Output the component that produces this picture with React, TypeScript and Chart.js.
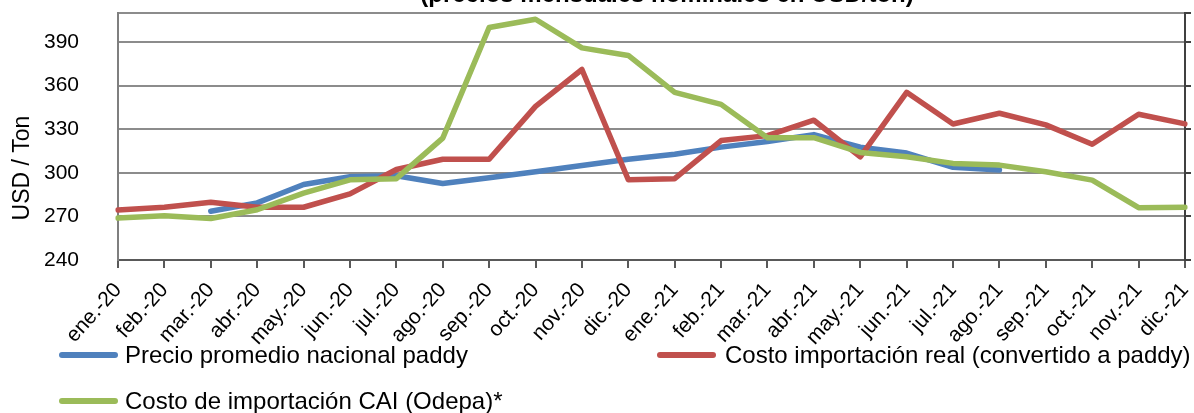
import React, { useEffect, useRef } from "react";
import { Chart, registerables } from "chart.js";

Chart.register(...registerables);

const categories = [
  "ene.-20", "feb.-20", "mar.-20", "abr.-20", "may.-20", "jun.-20",
  "jul.-20", "ago.-20", "sep.-20", "oct.-20", "nov.-20", "dic.-20",
  "ene.-21", "feb.-21", "mar.-21", "abr.-21", "may.-21", "jun.-21",
  "jul.-21", "ago.-21", "sep.-21", "oct.-21", "nov.-21", "dic.-21",
];

const precioNacional = [
  null, null, 273.5, 279.3, 292, 297.3, 298, 292.6, 296.6, 300.7, 305, 309.3,
  312.8, 317.7, 321.6, 326.3, 317.7, 313.6, 303.8, 302, null, null, null, null,
];

const costoReal = [
  274.4, 276.3, 279.8, 276.3, 276.3, 285.5, 302.3, 309.3, 309.3, 345.7, 371.1, 295.2,
  296, 322.2, 325.6, 336.2, 311, 355.4, 333.6, 341, 333, 319.7, 340.3, 333.7,
];

const costoCAI = [
  268.9, 270.5, 268.6, 274.6, 286, 295.2, 296, 323.9, 400, 405.7, 386, 380.8,
  355.4, 347.1, 324.2, 324.2, 314, 311, 306.5, 305.3, 300.7, 295, 276, 276.3,
];

const yTicks = [240, 270, 300, 330, 360, 390];
const yMin = 240;
const yMax = 410;

const seriesNames = [
  "Precio promedio nacional paddy",
  "Costo importación real (convertido a paddy)",
  "Costo de importación CAI (Odepa)*",
];
const titleText = "(precios mensuales nominales en USD/ton)";
const yTitle = "USD / Ton";

const FONT = "'Liberation Sans', Arial, sans-serif";

export default function App() {
  const ref = useRef<HTMLCanvasElement | null>(null);

  useEffect(() => {
    document.body.style.margin = "0";
    const canvas = ref.current;
    if (!canvas) return;

    const legendPos = [
      { x: 62, y: 355, tx: 125, ty: 363 },
      { x: 660, y: 355, tx: 725, ty: 363 },
      { x: 62, y: 401, tx: 125, ty: 409 },
    ];

    const overlay = {
      id: "overlay",
      afterDraw(chart: any) {
        const ctx = chart.ctx;
        ctx.save();
        ctx.fillStyle = "#000";
        ctx.font = `bold 24px ${FONT}`;
        ctx.textAlign = "center";
        ctx.textBaseline = "alphabetic";
        ctx.fillText(titleText, 667, 2);
        ctx.save();
        ctx.translate(23, 168);
        ctx.rotate(-Math.PI / 2);
        ctx.font = `23px ${FONT}`;
        ctx.textBaseline = "middle";
        ctx.fillText(yTitle, 0, 0);
        ctx.restore();
        chart.data.datasets.forEach((ds: any, i: number) => {
          const p = legendPos[i];
          ctx.strokeStyle = ds.borderColor;
          ctx.lineWidth = 6;
          ctx.lineCap = "round";
          ctx.beginPath();
          ctx.moveTo(p.x, p.y);
          ctx.lineTo(p.x + 53, p.y);
          ctx.stroke();
          ctx.fillStyle = "#000";
          ctx.font = `24px ${FONT}`;
          ctx.textAlign = "left";
          ctx.textBaseline = "alphabetic";
          ctx.fillText(ds.label, p.tx, p.ty);
        });
        ctx.restore();
      },
    };

    const setTicks = (scale: any) => {
      scale.ticks = [...yTicks, yMax].map((v) => ({ value: v }));
    };

    const lineStyle = {
      borderWidth: 5.5,
      pointRadius: 0,
      tension: 0,
      borderJoinStyle: "round",
      borderCapStyle: "round",
    };

    const chart = new Chart(canvas, {
      type: "line",
      data: {
        labels: categories,
        datasets: [
          {
            ...lineStyle,
            label: seriesNames[0],
            data: precioNacional,
            borderColor: "#4F81BD",
            backgroundColor: "#4F81BD",
            order: 3,
          },
          {
            ...lineStyle,
            label: seriesNames[1],
            data: costoReal,
            borderColor: "#C0504D",
            backgroundColor: "#C0504D",
            order: 2,
          },
          {
            ...lineStyle,
            label: seriesNames[2],
            data: costoCAI,
            borderColor: "#9BBB59",
            backgroundColor: "#9BBB59",
            order: 1,
          },
        ],
      },
      options: {
        responsive: false,
        animation: false,
        devicePixelRatio: 1,
        layout: { padding: { top: 13, left: 0, right: 0, bottom: 0 } },
        plugins: {
          legend: { display: false },
          title: { display: false },
          tooltip: { enabled: false },
        },
        scales: {
          x: {
            type: "category",
            offset: false,
            grid: {
              display: true,
              drawOnChartArea: false,
              drawTicks: true,
              tickLength: 8,
              color: "#595959",
              lineWidth: 2,
            },
            border: { display: true, color: "#595959", width: 2 },
            ticks: {
              autoSkip: false,
              maxRotation: 48,
              minRotation: 48,
              padding: 10,
              color: "#000",
              font: { family: FONT, size: 21 },
            },
            afterFit: (s: any) => {
              s.height = 153;
              s.paddingLeft = 0;
              s.paddingRight = 0;
            },
          },
          y: {
            type: "linear",
            position: "left",
            min: yMin,
            max: yMax,
            afterBuildTicks: setTicks,
            grid: { color: "#8c8c8c", lineWidth: 2, drawTicks: false },
            border: { display: true, color: "#7f7f7f", width: 2 },
            ticks: {
              padding: 39,
              color: "#000",
              font: { family: FONT, size: 21 },
              callback: (v: any) => (yTicks.includes(Number(v)) ? String(v) : ""),
            },
            afterFit: (s: any) => {
              s.width = 118;
              s.paddingTop = 0;
              s.paddingBottom = 0;
            },
          },
          y2: {
            type: "linear",
            position: "right",
            min: yMin,
            max: yMax,
            afterBuildTicks: setTicks,
            grid: {
              drawOnChartArea: false,
              drawTicks: true,
              tickLength: 6,
              color: "#404040",
              lineWidth: 2,
            },
            border: { display: true, color: "#404040", width: 2 },
            ticks: { display: false },
            afterFit: (s: any) => {
              s.width = 9;
              s.paddingTop = 0;
              s.paddingBottom = 0;
            },
          },
        },
      },
      plugins: [overlay],
    } as any);

    return () => chart.destroy();
  }, []);

  return (
    <div style={{ position: "relative", width: 1194, height: 413 }}>
      <canvas ref={ref} width={1194} height={413} style={{ display: "block" }} />
    </div>
  );
}
